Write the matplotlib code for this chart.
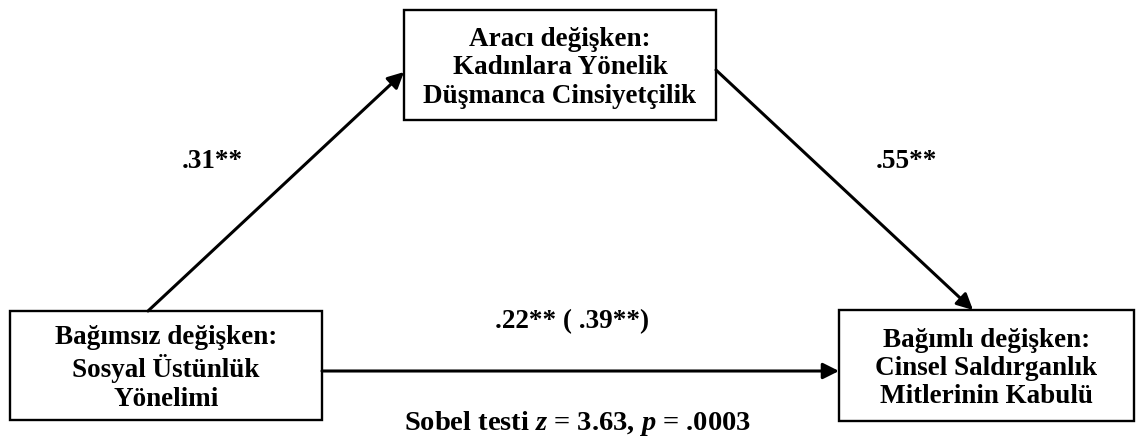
import matplotlib
matplotlib.use('Agg')
import matplotlib.pyplot as plt
from matplotlib.patches import Rectangle

plt.rcParams['font.family'] = 'Liberation Serif'
plt.rcParams['mathtext.fontset'] = 'custom'
plt.rcParams['mathtext.rm'] = 'Liberation Serif:bold'
plt.rcParams['mathtext.it'] = 'Liberation Serif:italic:bold'

# diagram content
box_labels = [
    'Aracı değişken:\nKadınlara Yönelik\nDüşmanca Cinsiyetçilik',
    'Bağımsız değişken:\nSosyal Üstünlük\nYönelimi',
    'Bağımlı değişken:\nCinsel Saldırganlık\nMitlerinin Kabulü',
]
path_a = '.31**'
path_b = '.55**'
path_c = '.22** ( .39**)'
sobel_z = 3.63
sobel_p = '.0003'

# layout in pixels (x0, y0, x1, y1), y downwards
boxes = [(404, 10, 716, 120), (10, 311, 322, 420), (839, 310, 1134, 421)]

fig = plt.figure(figsize=(11.41, 4.44), dpi=100)
ax = fig.add_axes([0, 0, 1, 1])
ax.set_xlim(0, 1141)
ax.set_ylim(444, 0)
ax.axis('off')

for (x0, y0, x1, y1), label in zip(boxes, box_labels):
    ax.add_patch(Rectangle((x0, y0), x1 - x0, y1 - y0, facecolor='white',
                           edgecolor='black', linewidth=1.7))
    ax.text((x0 + x1) / 2, (y0 + y1) / 2 + 3, label, ha='center', va='center',
            fontsize=19.5, fontweight='bold', linespacing=1.18)

arrow = dict(arrowstyle='-|>', color='black', lw=2.2, mutation_scale=24,
             shrinkA=0, shrinkB=0)
# a path
ax.annotate('', xy=(404, 72), xytext=(148, 311), arrowprops=arrow)
# b path
ax.annotate('', xy=(973, 310), xytext=(716, 70), arrowprops=arrow)
# c path
ax.annotate('', xy=(839, 371), xytext=(322, 371), arrowprops=arrow)

ax.text(212, 161, path_a, ha='center', va='center', fontsize=19.5, fontweight='bold')
ax.text(906, 161, path_b, ha='center', va='center', fontsize=19.5, fontweight='bold')
ax.text(572, 322, path_c, ha='center', va='center', fontsize=19.5, fontweight='bold')
ax.text(578, 423, 'Sobel testi $z$ = %.2f, $p$ = %s' % (sobel_z, sobel_p),
        ha='center', va='center', fontsize=20.5, fontweight='bold')

fig.savefig('out.png', dpi=100)
